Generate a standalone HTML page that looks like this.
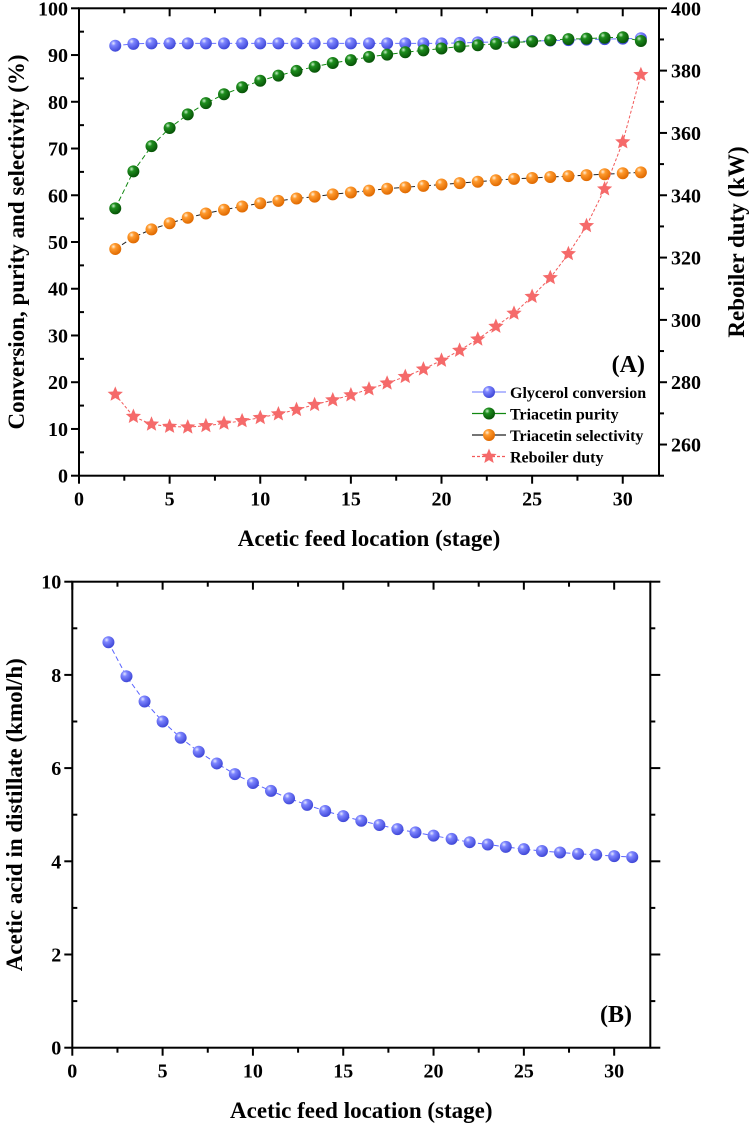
<!DOCTYPE html>
<html><head><meta charset="utf-8"><style>
body{margin:0;background:#fff}
svg{display:block;font-family:"Liberation Serif",serif;font-weight:bold}
</style></head><body>
<svg id="c" width="750" height="1124">
<defs>
<radialGradient id="gb" cx="35%" cy="30%" r="70%"><stop offset="0" stop-color="#e6e9ff"/><stop offset="0.3" stop-color="#7d85ff"/><stop offset="1" stop-color="#4048d8"/></radialGradient>
<radialGradient id="gg" cx="35%" cy="30%" r="70%"><stop offset="0" stop-color="#c8f0c8"/><stop offset="0.3" stop-color="#1e8e1e"/><stop offset="1" stop-color="#075407"/></radialGradient>
<radialGradient id="go" cx="35%" cy="30%" r="70%"><stop offset="0" stop-color="#fff0d8"/><stop offset="0.3" stop-color="#ff9a2e"/><stop offset="1" stop-color="#e06a00"/></radialGradient>
</defs>
</svg>
<script>
const stages=[2,3,4,5,6,7,8,9,10,11,12,13,14,15,16,17,18,19,20,21,22,23,24,25,26,27,28,29,30,31];
const glycerol=[92.0,92.4,92.5,92.5,92.5,92.5,92.5,92.5,92.5,92.5,92.5,92.5,92.5,92.5,92.5,92.5,92.5,92.5,92.5,92.6,92.7,92.8,92.9,93.0,93.1,93.2,93.3,93.4,93.5,93.6];
const purity=[57.2,65.1,70.5,74.4,77.3,79.7,81.6,83.1,84.5,85.6,86.6,87.5,88.3,88.9,89.6,90.1,90.6,91.0,91.4,91.8,92.1,92.4,92.7,92.9,93.2,93.4,93.5,93.7,93.8,93.0];
const selectivity=[48.5,51.0,52.7,54.0,55.2,56.1,56.9,57.6,58.3,58.8,59.3,59.7,60.2,60.6,61.0,61.4,61.7,62.0,62.3,62.6,62.9,63.2,63.5,63.7,63.9,64.1,64.3,64.5,64.7,64.9];
const duty=[276.1,269.0,266.5,265.8,265.6,266.0,266.8,267.6,268.6,269.8,271.2,272.8,274.3,275.9,277.8,279.7,281.8,284.2,287.0,290.2,293.8,297.9,302.1,307.5,313.5,321.2,330.2,342.0,357.1,378.7];
const aceticDistillate=[8.7,7.97,7.43,7.0,6.65,6.35,6.1,5.87,5.68,5.51,5.35,5.21,5.08,4.97,4.87,4.78,4.69,4.62,4.55,4.48,4.41,4.36,4.31,4.26,4.22,4.19,4.16,4.14,4.11,4.09];
const xTicks=[0,5,10,15,20,25,30];
const yTicksA=[0,10,20,30,40,50,60,70,80,90,100];
const yTicksR=[260,280,300,320,340,360,380,400];
const yTicksB=[0,2,4,6,8,10];

const svg=document.getElementById('c');
const NS='http://www.w3.org/2000/svg';
function mk(tag,attrs,parent){const e=document.createElementNS(NS,tag);for(const k in attrs)e.setAttribute(k,attrs[k]);(parent||svg).appendChild(e);return e;}
function txt(s,attrs,parent){const e=mk('text',attrs,parent);e.textContent=s;return e;}

const A={l:79,r:659,t:8.3,b:475.7};
const xA=v=>A.l+(v/32)*(A.r-A.l);
const yA=v=>A.b-(v/100)*(A.b-A.t);
const yR=v=>A.b-((v-250)/150)*(A.b-A.t);
const B={l:72.3,r:650.3,t:581.7,b:1047.7};
const xB=v=>B.l+(v/32)*(B.r-B.l);
const yB=v=>B.b-(v/10)*(B.b-B.t);

function frame(P,name){
  const g=mk('g',{});
  
  
  mk('rect',{x:P.l,y:P.t,width:P.r-P.l,height:P.b-P.t,fill:'none',stroke:'#000','stroke-width':2},g);
  return g;
}
function xAxis(P,xs,g){
  for(let v=0;v<=32;v+=2.5){
    const x=P.l+(v/32)*(P.r-P.l);const major=v%5===0;
    mk('line',{x1:x,x2:x,y1:P.b,y2:P.b+(major?8:5),stroke:'#000','stroke-width':2},g);
    mk('line',{x1:x,x2:x,y1:P.t,y2:P.t+(major?8:5),stroke:'#000','stroke-width':2},g);
  }
  xTicks.forEach(v=>{const t=txt(String(v),{x:P.l+(v/32)*(P.r-P.l),y:P.b+30,'text-anchor':'middle','font-size':20},g);
    
    });
}
const gA=frame(A,'chart-a');
xAxis(A,xA,gA);
for(let v=0;v<=100;v+=5){const y=yA(v);const major=v%10===0;
  mk('line',{x1:A.l-(major?8:0),x2:A.l+(major?0:5),y1:y,y2:y,stroke:'#000','stroke-width':2},gA);}
yTicksA.forEach(v=>{const t=txt(String(v),{x:A.l-11,y:yA(v)+7,'text-anchor':'end','font-size':20},gA);
  
  });
for(let v=250;v<=400;v+=10){const y=yR(v);const major=v%20===0;
  mk('line',{x1:A.r,x2:A.r+(major?8:5),y1:y,y2:y,stroke:'#000','stroke-width':2},gA);}
yTicksR.forEach(v=>{const t=txt(String(v),{x:A.r+12,y:yR(v)+7,'font-size':20},gA);
  
  });
let t;
t=txt('Acetic feed location (stage)',{x:(A.l+A.r)/2,y:546,'text-anchor':'middle','font-size':23});


t=txt('Conversion, purity and selectivity (%)',{x:0,y:0,'text-anchor':'middle','font-size':23,transform:`translate(24,${(A.t+A.b)/2}) rotate(-90)`});


t=txt('Reboiler duty (kW)',{x:0,y:0,'text-anchor':'middle','font-size':23,transform:`translate(744,${(A.t+A.b)/2}) rotate(-90)`});


t=txt('(A)',{x:645,y:372,'text-anchor':'end','font-size':24});



function series(xs,ys,fx,fy,color,grad,name,dash){
  const g=mk('g',{});
  
  
  const pts=xs.map((x,i)=>fx(x).toFixed(1)+','+fy(ys[i]).toFixed(1)).join(' ');
  mk('polyline',{points:pts,fill:'none',stroke:color,'stroke-width':1,'stroke-dasharray':dash||'none'},g);
  xs.forEach((x,i)=>{
    const c=mk('circle',{cx:fx(x),cy:fy(ys[i]),r:6,fill:grad},g);
    
    
  });
}
function starPath(cx,cy,R){const r=R*0.45;let d='';for(let i=0;i<10;i++){const a=-Math.PI/2+i*Math.PI/5;const rr=i%2?r:R;d+=(i?'L':'M')+(cx+rr*Math.cos(a)).toFixed(1)+','+(cy+rr*Math.sin(a)).toFixed(1);}return d+'Z';}
series(stages,glycerol,xA,yA,'#6a74ff','url(#gb)','glycerol-conversion-series','5,3');
series(stages,purity,xA,yA,'#118811','url(#gg)','triacetin-purity-series','5,3');
series(stages,selectivity,xA,yA,'#222','url(#go)','triacetin-selectivity-series','5,3');
{
  const g=mk('g',{});
  
  
  mk('polyline',{points:stages.map((x,i)=>xA(x).toFixed(1)+','+yR(duty[i]).toFixed(1)).join(' '),fill:'none',stroke:'#f25a5a','stroke-width':1,'stroke-dasharray':'3,2'},g);
  stages.forEach((x,i)=>{const p=mk('path',{d:starPath(xA(x),yR(duty[i]),8),fill:'#f56a6a'},g);
    
    });
}
const lg=mk('g',{});


const legItems=[['Glycerol  conversion','#8890ff','url(#gb)',0],['Triacetin purity','#118811','url(#gg)',0],['Triacetin selectivity','#222','url(#go)',0],['Reboiler duty','#f25a5a',null,1]];
legItems.forEach((it,i)=>{
  const y=392+i*21.5;
  const e=mk('g',{},lg);
  
  
  mk('line',{x1:472,x2:506,y1:y,y2:y,stroke:it[1],'stroke-width':1.3,'stroke-dasharray':it[3]?'3,2':'none'},e);
  if(it[2])mk('circle',{cx:489,cy:y,r:6,fill:it[2]},e);else mk('path',{d:starPath(489,y,8),fill:'#f56a6a'},e);
  txt(it[0],{x:510,y:y+6,'font-size':16},e);
});

const gB=frame(B,'chart-b');
xAxis(B,xB,gB);
for(let v=0;v<=10;v+=1){const y=yB(v);const major=v%2===0;
  mk('line',{x1:B.l-(major?8:0),x2:B.l+(major?0:5),y1:y,y2:y,stroke:'#000','stroke-width':2},gB);
  mk('line',{x1:B.r,x2:B.r+(major?10:5),y1:y,y2:y,stroke:'#000','stroke-width':2},gB);}
yTicksB.forEach(v=>{const t=txt(String(v),{x:B.l-11,y:yB(v)+7,'text-anchor':'end','font-size':20},gB);
  
  });
t=txt('Acetic feed location (stage)',{x:(B.l+B.r)/2,y:1118,'text-anchor':'middle','font-size':23});


t=txt('Acetic acid in distillate (kmol/h)',{x:0,y:0,'text-anchor':'middle','font-size':23,transform:`translate(22,${(B.t+B.b)/2}) rotate(-90)`});


t=txt('(B)',{x:632,y:1022,'text-anchor':'end','font-size':24});


series(stages,aceticDistillate,xB,yB,'#5a64ff','url(#gb)','acetic-acid-distillate-series','5,3');
</script>
</body></html>
